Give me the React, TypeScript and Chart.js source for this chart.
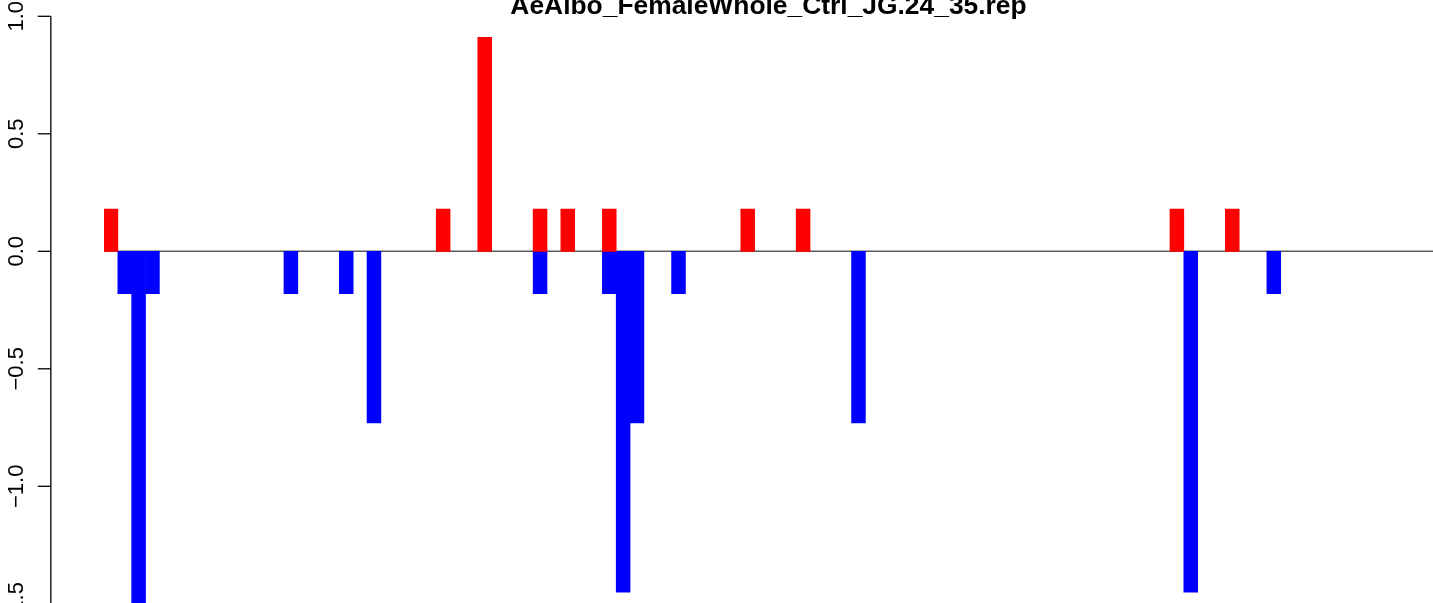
import React, { useEffect, useRef } from "react";
import { Chart, registerables } from "chart.js";

Chart.register(...registerables);

const TITLE = "AeAlbo_FemaleWhole_Ctrl_JG.24_35.rep";

// 96 consecutive bins along the x axis
const BIN_COUNT = 96;
const categories: string[] = Array.from({ length: BIN_COUNT }, (_, i) => String(i + 1));

// positive (red) bars: bin index and value
const upBins = [0, 24, 27, 31, 33, 36, 46, 50, 77, 81];
const upValues = [0.18, 0.18, 0.91, 0.18, 0.18, 0.18, 0.18, 0.18, 0.18, 0.18];

// negative (blue) bars: bin index and value
const downBins = [1, 2, 3, 13, 17, 19, 31, 36, 37, 38, 41, 54, 78, 84];
const downValues = [-0.18, -1.64, -0.18, -0.18, -0.18, -0.73, -0.18, -0.18, -1.45, -0.73, -0.18, -0.73, -1.45, -0.18];

// y axis ticks
const yTickValues = [1.0, 0.5, 0.0, -0.5, -1.0, -1.5];
const yTickLabels = ["1.0", "0.5", "0.0", "\u22120.5", "\u22121.0", "\u22121.5"];

const Y_MIN = -1.9;
const Y_MAX = 1.0;

function buildSeries(bins: number[], values: number[]): (number | null)[] {
  const out: (number | null)[] = categories.map(() => null);
  bins.forEach((b, i) => {
    out[b] = values[i];
  });
  return out;
}

const FONT = '"Liberation Sans", Arial, Helvetica, sans-serif';

const rStylePlugin = {
  id: "rStyle",
  beforeDatasetsDraw(chart: any) {
    const { ctx, chartArea, scales } = chart;
    const y0 = scales.y.getPixelForValue(0);
    ctx.save();
    ctx.strokeStyle = "#5a5a5a";
    ctx.lineWidth = 1.5;
    ctx.beginPath();
    ctx.moveTo(chartArea.left, y0);
    ctx.lineTo(chartArea.right, y0);
    ctx.stroke();
    ctx.restore();
  },
  afterDraw(chart: any) {
    const { ctx, chartArea, scales } = chart;
    const D = chartArea.right - chartArea.left;
    const plotLeft = chartArea.left - 0.04 * D;
    const plotRight = chartArea.right + 0.04 * D;
    const yScale = scales.y;

    ctx.save();
    // axis line
    ctx.strokeStyle = "#000";
    ctx.lineWidth = 1.3;
    ctx.beginPath();
    ctx.moveTo(plotLeft, yScale.getPixelForValue(yTickValues[0]));
    ctx.lineTo(plotLeft, yScale.getPixelForValue(Y_MIN));
    ctx.stroke();
    // ticks + labels
    ctx.fillStyle = "#000";
    ctx.font = `22px ${FONT}`;
    ctx.textAlign = "center";
    ctx.textBaseline = "alphabetic";
    yTickValues.forEach((v, i) => {
      const py = yScale.getPixelForValue(v);
      ctx.beginPath();
      ctx.moveTo(plotLeft - 13, py);
      ctx.lineTo(plotLeft, py);
      ctx.stroke();
      ctx.save();
      ctx.translate(plotLeft - 28, py);
      ctx.rotate(-Math.PI / 2);
      ctx.fillText(yTickLabels[i], 0, 0);
      ctx.restore();
    });
    // title
    ctx.font = `bold 26.4px ${FONT}`;
    ctx.textAlign = "center";
    ctx.textBaseline = "alphabetic";
    ctx.fillText(TITLE, (plotLeft + plotRight) / 2, 13.5);
    ctx.restore();
  },
};

export default function App() {
  const canvasRef = useRef<HTMLCanvasElement | null>(null);

  useEffect(() => {
    const canvas = canvasRef.current;
    if (!canvas) return;
    const chart = new Chart(canvas, {
      type: "bar",
      data: {
        labels: categories,
        datasets: [
          {
            label: "up",
            data: buildSeries(upBins, upValues),
            backgroundColor: "#ff0000",
            borderWidth: 0,
            barPercentage: 1,
            categoryPercentage: 1,
            stack: "s",
          },
          {
            label: "down",
            data: buildSeries(downBins, downValues),
            backgroundColor: "#0000ff",
            borderWidth: 0,
            barPercentage: 1,
            categoryPercentage: 1,
            stack: "s",
          },
        ],
      },
      options: {
        responsive: false,
        animation: false,
        devicePixelRatio: 1,
        layout: { padding: { left: 104, right: 0, top: 16.3, bottom: 2.2 } },
        plugins: {
          legend: { display: false },
          tooltip: { enabled: false },
          title: { display: false },
        },
        scales: {
          x: { type: "category", display: false, stacked: true, offset: true },
          y: { type: "linear", display: false, stacked: true, min: Y_MIN, max: Y_MAX },
        },
      },
      plugins: [rStylePlugin],
    });
    return () => chart.destroy();
  }, []);

  return (
    <div
      style={{
        position: "fixed",
        left: 0,
        top: 0,
        width: 1433,
        height: 603,
        overflow: "hidden",
        background: "#fff",
      }}
    >
      <canvas ref={canvasRef} width={1433} height={700} style={{ display: "block" }} />
    </div>
  );
}
